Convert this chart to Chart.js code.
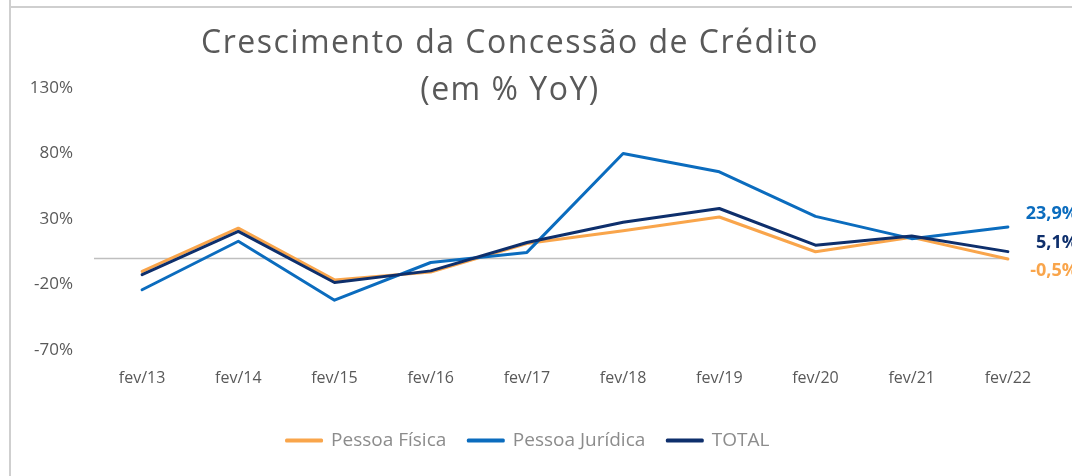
<!DOCTYPE html>
<html>
<head>
<meta charset="utf-8">
<script src="https://cdn.jsdelivr.net/npm/chart.js@4/dist/chart.umd.min.js"></script>
<style>
  html, body { margin: 0; padding: 0; background: #fff; }
  body { width: 1072px; height: 476px; position: relative; overflow: hidden; font-family: "Open Sans", sans-serif; }
  .frame-v { position: absolute; left: 9px; top: 0; width: 2px; height: 476px; background: #cfcfcf; }
  .frame-h { position: absolute; left: 9px; top: 6px; width: 1063px; height: 2px; background: #cfcfcf; }
  #wrap { position: absolute; left: 0; top: 0; width: 1072px; height: 476px; }
  .title { position: absolute; left: 160px; width: 700px; text-align: center; color: #595959; font-size: 32px; line-height: 47px; top: 17px; letter-spacing: 1.5px; }
</style>
</head>
<body>
<div class="frame-v"></div>
<div class="frame-h"></div>
<div id="wrap"><canvas id="chart" width="1072" height="476"></canvas></div>
<div class="title">Crescimento da Concessão de Crédito<br>(em % YoY)</div>
<script>
const labels = ['fev/13', 'fev/14', 'fev/15', 'fev/16', 'fev/17', 'fev/18', 'fev/19', 'fev/20', 'fev/21', 'fev/22'];
const pessoaFisica = [-10, 23, -16.5, -10.5, 11.3, 21, 31.5, 5, 16, -0.5];
const pessoaJuridica = [-24, 13, -32, -3.2, 4.5, 80, 66, 32, 15, 23.9];
const total = [-12.5, 20.5, -18.5, -9.6, 12.1, 27.5, 38, 10, 17, 5.1];
const yTicks = [-70, -20, 30, 80, 130];

// zero line, stops at the last category like in the excel chart
const zeroLine = {
  id: 'zeroLine',
  beforeDatasetsDraw(chart) {
    const { ctx, chartArea, scales } = chart;
    const y = Math.round(scales.y.getPixelForValue(0)) + 0.5;
    const xEnd = scales.x.getPixelForValue(labels.length - 1);
    ctx.save();
    ctx.strokeStyle = '#bfbfbf';
    ctx.lineWidth = 1.5;
    ctx.beginPath();
    ctx.moveTo(chartArea.left, y);
    ctx.lineTo(xEnd, y);
    ctx.stroke();
    ctx.restore();
  }
};

// last value label at the end of each line
const endLabels = {
  id: 'endLabels',
  afterDatasetsDraw(chart) {
    const { ctx, scales } = chart;
    ctx.save();
    ctx.font = 'bold 18px "Open Sans", sans-serif';
    ctx.textAlign = 'right';
    ctx.textBaseline = 'middle';
    chart.data.datasets.forEach(ds => {
      const last = ds.data.length - 1;
      const v = ds.data[last];
      const x = scales.x.getPixelForValue(last) + 70;
      const y = scales.y.getPixelForValue(v) + ds.labelShift;
      ctx.fillStyle = ds.borderColor;
      ctx.fillText(v.toFixed(1).replace('.', ',') + '%', x, y);
    });
    ctx.restore();
  }
};

const data = {
  labels: labels,
  datasets: [
    {
      label: 'Pessoa Física',
      data: pessoaFisica,
      borderColor: '#F9A54B',
      backgroundColor: '#F9A54B',
      order: 3,
      labelShift: 12
    },
    {
      label: 'Pessoa Jurídica',
      data: pessoaJuridica,
      borderColor: '#0B6CBE',
      backgroundColor: '#0B6CBE',
      order: 2,
      labelShift: -13
    },
    {
      label: 'TOTAL',
      data: total,
      borderColor: '#0E2F6C',
      backgroundColor: '#0E2F6C',
      order: 1,
      labelShift: -9
    }
  ]
};

const config = {
  type: 'line',
  data: data,
  options: {
    responsive: false,
    animation: false,
    layout: { padding: { top: 88, right: 16, bottom: 16, left: 0 } },
    elements: {
      line: { borderWidth: 3, tension: 0, borderCapStyle: 'round', borderJoinStyle: 'round' },
      point: { radius: 0 }
    },
    scales: {
      x: {
        offset: true,
        grid: { display: false },
        border: { display: false },
        ticks: { color: '#595959', font: { size: 16, family: '"Open Sans", sans-serif' }, padding: 11, maxRotation: 0 },
        afterFit: scale => { scale.height = 59; }
      },
      y: {
        min: -70,
        max: 130,
        grid: { display: false },
        border: { display: false },
        afterBuildTicks: scale => { scale.ticks = yTicks.map(v => ({ value: v })); },
        ticks: {
          color: '#595959',
          font: { size: 17, family: '"Open Sans", sans-serif' },
          padding: 13,
          callback: v => v + '%'
        },
        afterFit: scale => { scale.width = 94; }
      }
    },
    plugins: {
      legend: {
        position: 'bottom',
        labels: {
          color: '#8C8C8C',
          font: { size: 19, family: '"Open Sans", sans-serif' },
          boxWidth: 35,
          boxHeight: 1,
          padding: 22,
          sort: (a, b) => a.datasetIndex - b.datasetIndex
        }
      },
      tooltip: { enabled: false }
    }
  },
  plugins: [zeroLine, endLabels]
};

new Chart(document.getElementById('chart'), config);
</script>
</body>
</html>
